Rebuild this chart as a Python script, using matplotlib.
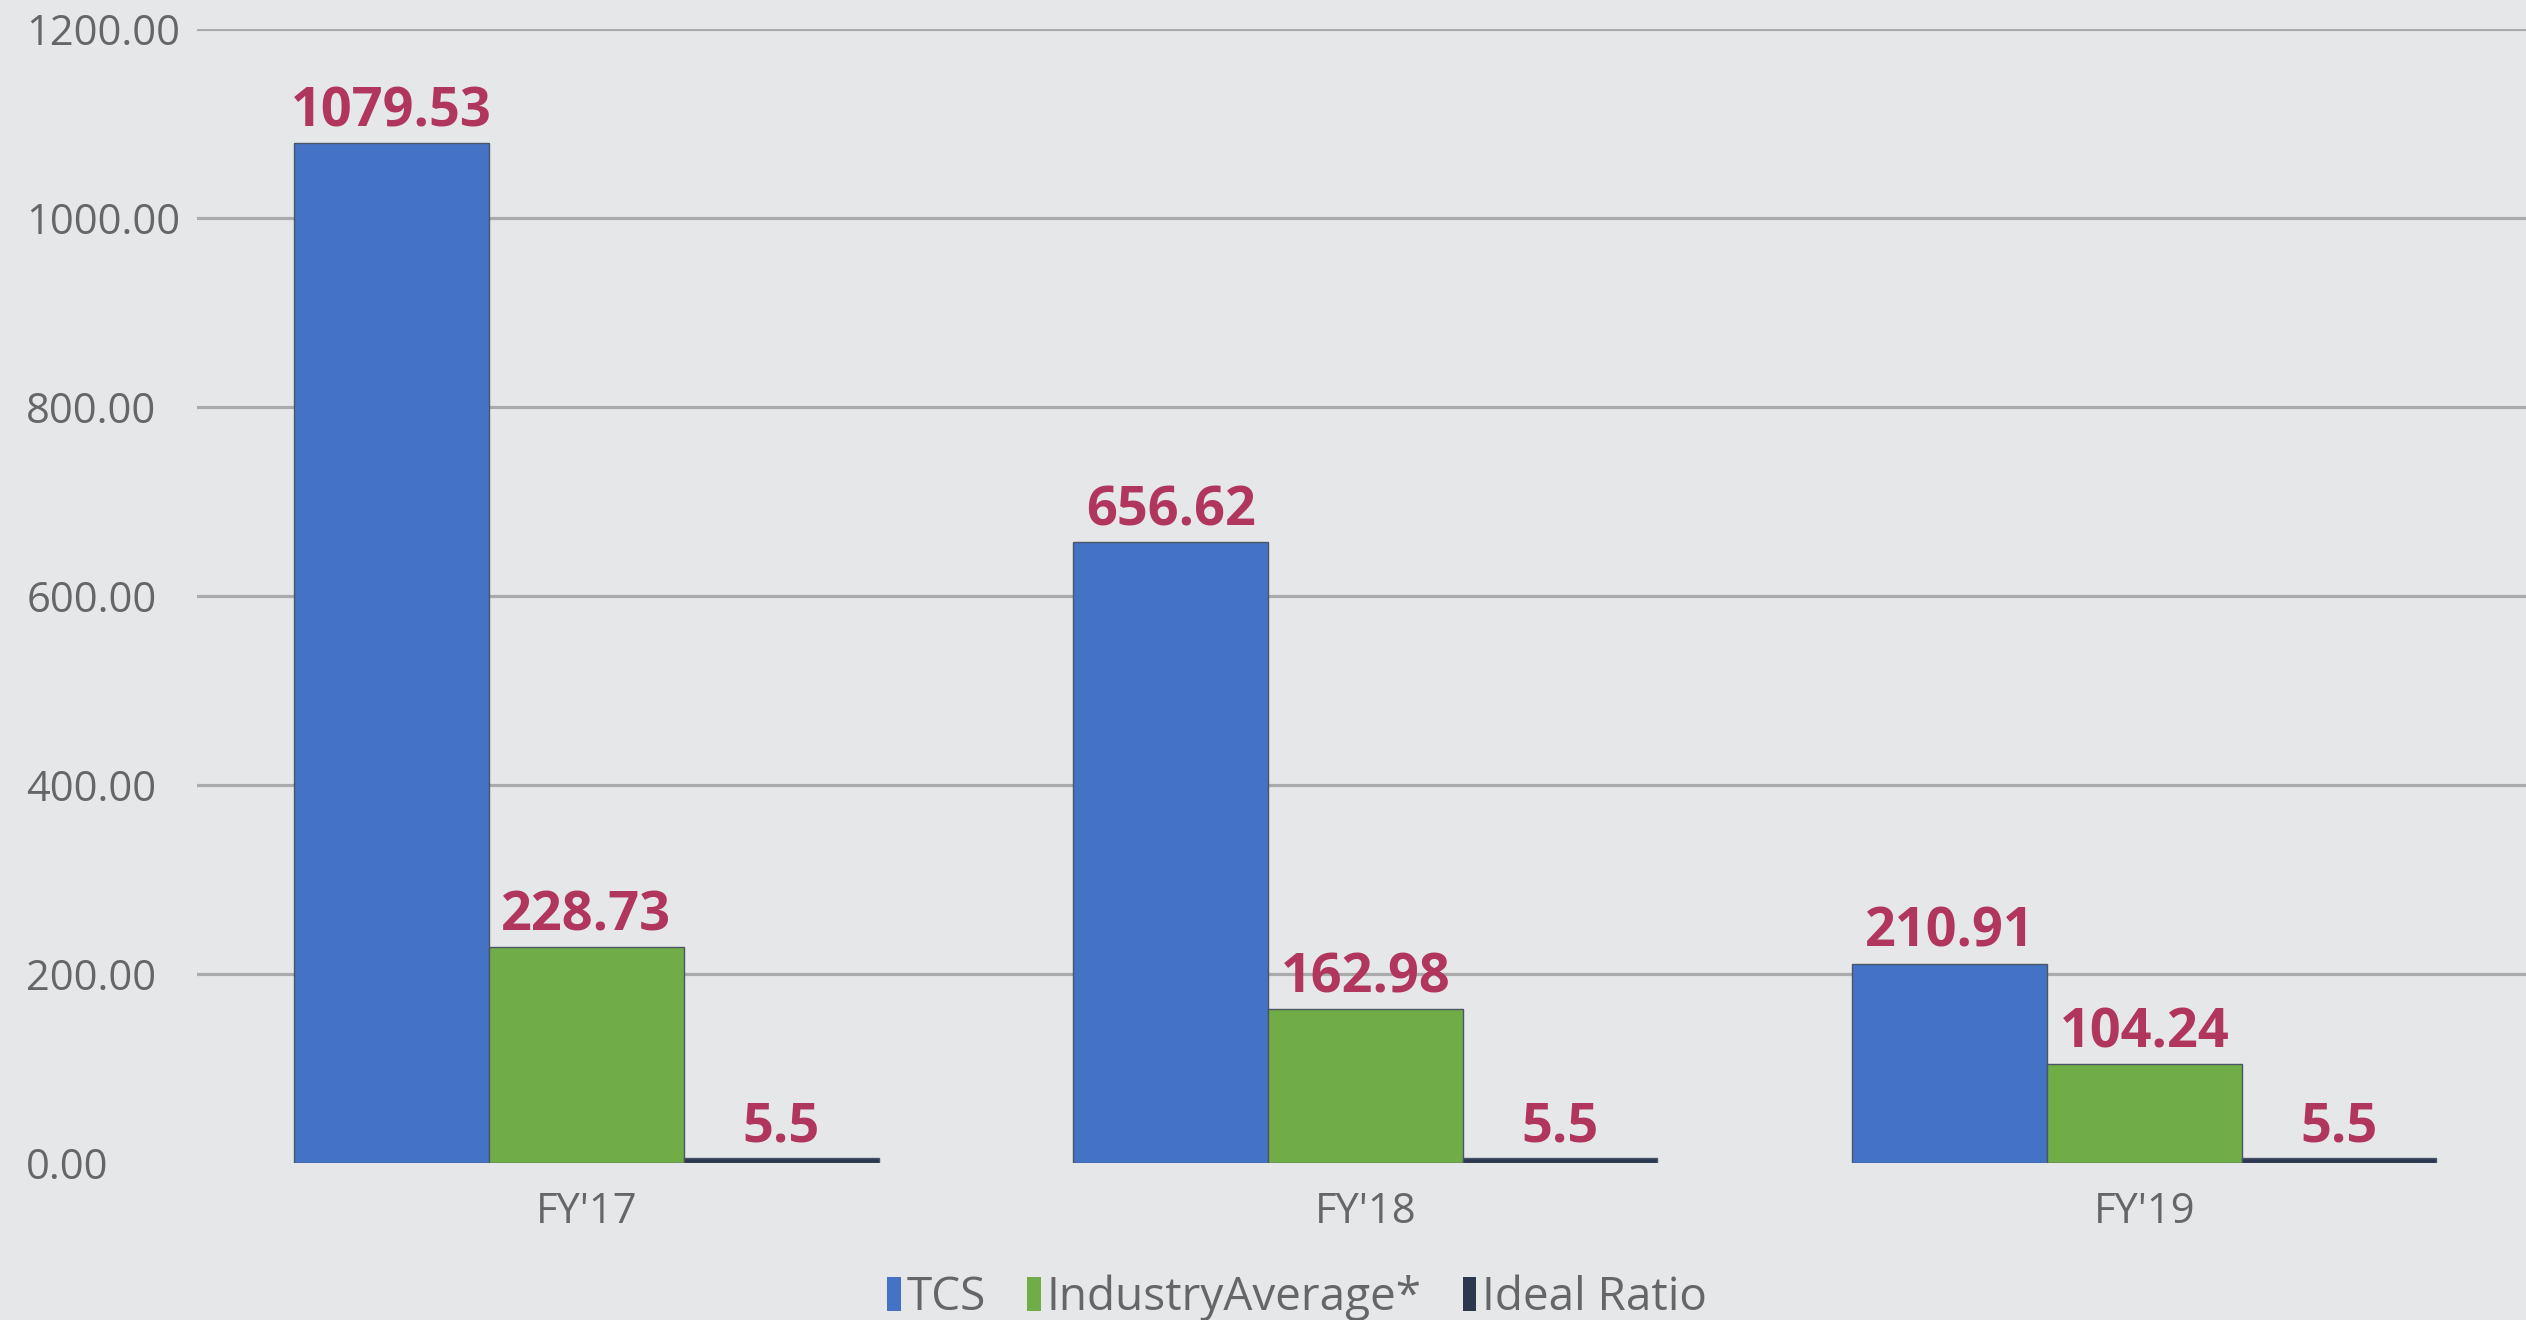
import numpy as np
import matplotlib
matplotlib.use('Agg')
import matplotlib.pyplot as plt

# data
years = ["FY'17", "FY'18", "FY'19"]
tcs = [1079.53, 656.62, 210.91]
industry_avg = [228.73, 162.98, 104.24]
ideal_ratio = [5.5, 5.5, 5.5]
y_ticks = [0, 200, 400, 600, 800, 1000, 1200]

series_names = ['TCS', 'IndustryAverage*', 'Ideal Ratio']
series_colors = ['#4472C4', '#70AD47', '#2B3850']
label_c = '#B0365E'
text_c = '#666666'
bg_c = '#E6E7E9'

plt.rcParams['font.family'] = ['Open Sans', 'DejaVu Sans']

fig = plt.figure(figsize=(25.26, 13.2), dpi=100)
fig.patch.set_facecolor(bg_c)
ax = fig.add_axes([197/2526, 1 - 1163/1320, 1 - 197/2526, (1163 - 29)/1320])
ax.set_facecolor(bg_c)

x = np.arange(len(years))
w = 0.25
all_series = [tcs, industry_avg, ideal_ratio]
for i, vals in enumerate(all_series):
    pos = x + (i - 1) * w
    bars = ax.bar(pos, vals, width=w, color=series_colors[i],
                  edgecolor='#4A5566', linewidth=1.0, label=series_names[i],
                  zorder=3)
    for b, v in zip(bars, vals):
        txt = '%.1f' % v if v < 10 else '%.2f' % v
        ax.text(b.get_x() + b.get_width() / 2, v + 4, txt,
                ha='center', va='bottom', color=label_c, fontsize=39,
                fontweight='bold', zorder=4)

ax.set_xlim(-0.5, 2.49)
ax.set_ylim(0, 1200)
ax.set_yticks(y_ticks)
ax.set_yticklabels(['%.2f' % t for t in y_ticks])
ax.set_xticks(x)
ax.set_xticklabels(years)
for t in y_ticks[1:]:
    ax.axhline(t, color='#ABABAB', lw=2.3, zorder=1)

# y labels are left aligned near the image edge
ax.tick_params(axis='y', length=0, pad=123, labelsize=30, labelcolor=text_c)
ax.tick_params(axis='x', length=0, pad=20, labelsize=30, labelcolor=text_c)
for lbl in ax.get_yticklabels():
    lbl.set_horizontalalignment('left')
for s in ax.spines.values():
    s.set_visible(False)

leg = fig.legend(loc='center', bbox_to_anchor=(1297/2526, 1 - 1298/1320),
                 ncol=3, frameon=False, fontsize=33, handlelength=0.3,
                 handleheight=0.75, handletextpad=0.12, columnspacing=0.9,
                 labelcolor=text_c)
for h in leg.legend_handles:
    h.set_edgecolor('none')

plt.savefig('out.png', dpi=100, facecolor=bg_c)
